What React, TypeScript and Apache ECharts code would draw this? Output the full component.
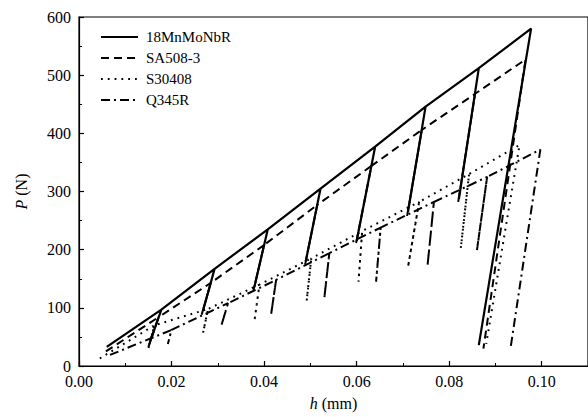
import React, { useEffect, useRef } from "react";
import * as echarts from "echarts";

// Indentation load–depth curves with partial unloading cycles.
// Each series: loading start, then cycle peaks, each followed by an unload to its bottom and a reload.
const seriesNames = ["18MnMoNbR", "SA508-3", "S30408", "Q345R"];

const startMn: [number, number] = [0.006, 33];
const peakHMn = [0.0178, 0.0293, 0.0408, 0.0522, 0.064, 0.0749, 0.0864, 0.0977];
const peakPMn = [97, 167, 235, 305, 377, 446, 512, 580];
const bottomHMn = [0.0153, 0.0268, 0.0379, 0.049, 0.06, 0.0711, 0.0821, 0.0864];
const bottomPMn = [40, 95, 136, 180, 215, 265, 287, 36];

const startSA: [number, number] = [0.0058, 25];
const peakHSA = [0.0172, 0.0285, 0.04, 0.0515, 0.0632, 0.0741, 0.0856, 0.0965];
const peakPSA = [84, 143, 208, 277, 344, 406, 468, 527];
const bottomHSA = [0.015, 0.0265, 0.0377, 0.0488, 0.0598, 0.0709, 0.0819, 0.0874];
const bottomPSA = [33, 88, 130, 172, 208, 258, 280, 30];

const startS3: [number, number] = [0.0045, 13];
const peakHS3 = [0.0163, 0.0279, 0.039, 0.0502, 0.0612, 0.0735, 0.0843, 0.0952];
const peakPS3 = [70, 98, 140, 185, 232, 282, 330, 380];
const bottomHS3 = [0.015, 0.0268, 0.0379, 0.0492, 0.0604, 0.0711, 0.0825, 0.088];
const bottomPS3 = [30, 57, 77, 112, 145, 170, 202, 38];

const startQ: [number, number] = [0.0067, 19];
const peakHQ = [0.02, 0.0322, 0.0426, 0.0541, 0.0652, 0.0767, 0.0882, 0.0997];
const peakPQ = [62, 108, 148, 194, 238, 282, 325, 372];
const bottomHQ = [0.0192, 0.0307, 0.0415, 0.053, 0.0642, 0.0753, 0.086, 0.0933];
const bottomPQ = [38, 68, 88, 116, 145, 171, 199, 33];

const xTickStep = 0.02;
const yTickStep = 100;

function buildPath(
  start: [number, number],
  peakH: number[],
  peakP: number[],
  bottomH: number[],
  bottomP: number[]
): [number, number][] {
  const pts: [number, number][] = [start];
  for (let i = 0; i < peakH.length; i++) {
    pts.push([peakH[i], peakP[i]]);
    pts.push([bottomH[i], bottomP[i]]);
    if (i < peakH.length - 1) pts.push([peakH[i], peakP[i]]);
  }
  return pts;
}

const paths = [
  buildPath(startMn, peakHMn, peakPMn, bottomHMn, bottomPMn),
  buildPath(startSA, peakHSA, peakPSA, bottomHSA, bottomPSA),
  buildPath(startS3, peakHS3, peakPS3, bottomHS3, bottomPS3),
  buildPath(startQ, peakHQ, peakPQ, bottomHQ, bottomPQ),
];

const dashes: (number[] | null)[] = [null, [8, 5], [1.8, 5], [9, 4, 2, 4]];
const widths = [2.2, 2, 2, 2];

const FONT = "Liberation Serif";

// Hand-placed legend: line swatch + label per series
const legendLeft = 101;
const legendTop = 37;
const legendStep = 21;

const serifText = { fontFamily: FONT, color: "#000" };

export default function App() {
  const ref = useRef<HTMLDivElement>(null);
  useEffect(() => {
    if (!ref.current) return;
    const chart = echarts.init(ref.current, undefined, { renderer: "svg" });
    const legendGraphics: any[] = [];
    seriesNames.forEach((name, i) => {
      const y = legendTop + i * legendStep;
      legendGraphics.push({
        type: "line",
        shape: { x1: legendLeft, y1: y, x2: legendLeft + 37, y2: y },
        style: { stroke: "#000", lineWidth: widths[i], lineDash: dashes[i] || undefined },
        z: 100,
      });
      legendGraphics.push({
        type: "text",
        x: legendLeft + 45,
        y,
        style: {
          text: name,
          fill: "#000",
          fontFamily: FONT,
          fontSize: 15,
          verticalAlign: "middle",
          align: "left",
        },
        z: 100,
      });
    });
    chart.setOption({
      animation: false,
      backgroundColor: "#ffffff",
      textStyle: { fontFamily: FONT, color: "#000" },
      grid: {
        left: 79,
        top: 17,
        width: 510.4,
        height: 349,
        show: true,
        borderColor: "#000",
        borderWidth: 1.2,
        backgroundColor: "transparent",
      },
      graphic: legendGraphics,
      xAxis: {
        type: "value",
        min: 0,
        max: 0.11,
        interval: xTickStep,
        name: "{i|h}{r| (mm)}",
        nameLocation: "middle",
        nameGap: 29,
        nameTextStyle: {
          ...serifText,
          fontSize: 16,
          rich: {
            i: { ...serifText, fontStyle: "italic", fontSize: 16 },
            r: { ...serifText, fontSize: 16 },
          },
        },
        axisLine: { lineStyle: { color: "#000", width: 1.2 } },
        axisTick: { inside: true, length: 5, lineStyle: { color: "#000", width: 1.2 } },
        minorTick: { show: true, splitNumber: 2, length: 3, lineStyle: { color: "#000", width: 1 } },
        axisLabel: {
          ...serifText,
          fontSize: 16,
          margin: 7,
          showMaxLabel: false,
          formatter: (v: number) => `{t|${v.toFixed(2)}}`,
          rich: { t: { ...serifText, fontSize: 16 } },
        },
        splitLine: { show: false },
      },
      yAxis: {
        type: "value",
        min: 0,
        max: 600,
        interval: yTickStep,
        name: "{i|P}{r| (N)}",
        nameLocation: "middle",
        nameGap: 50,
        nameTextStyle: {
          ...serifText,
          fontSize: 16,
          rich: {
            i: { ...serifText, fontStyle: "italic", fontSize: 16 },
            r: { ...serifText, fontSize: 16 },
          },
        },
        axisLine: { show: true, lineStyle: { color: "#000", width: 1.2 } },
        axisTick: { show: true, inside: true, length: 5, lineStyle: { color: "#000", width: 1.2 } },
        minorTick: { show: true, splitNumber: 2, length: 3, lineStyle: { color: "#000", width: 1 } },
        axisLabel: {
          ...serifText,
          fontSize: 16,
          margin: 8,
          formatter: (v: number) => `{t|${v}}`,
          rich: { t: { ...serifText, fontSize: 16 } },
        },
        splitLine: { show: false },
      },
      series: paths.map((data, i) => ({
        name: seriesNames[i],
        type: "line",
        data,
        symbol: "none",
        showSymbol: false,
        smooth: false,
        color: "#000",
        lineStyle: { color: "#000", width: widths[i], type: dashes[i] || "solid" },
        itemStyle: { color: "#000" },
        z: 10 - i,
      })),
    });
    return () => chart.dispose();
  }, []);
  return (
    <div
      ref={ref}
      style={{ position: "fixed", left: 0, top: 0, width: 588, height: 417, background: "#fff" }}
    />
  );
}
